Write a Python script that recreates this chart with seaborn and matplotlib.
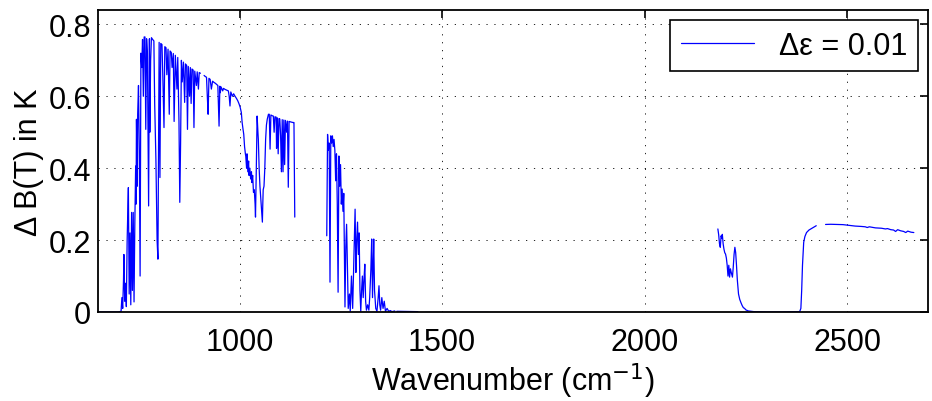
import numpy as np
import pandas as pd
import matplotlib
matplotlib.use("Agg")
import matplotlib.pyplot as plt
import seaborn as sns

# Brightness-temperature sensitivity spectrum, one emissivity perturbation.
# The spectrum is stored band by band; breaks between bands are gaps in the data.

# 650-903 cm-1 (CO2 band edge and window)
wn_band1 = [650, 700, 707, 709, 711, 713, 714, 716, 718, 720, 722, 724, 725, 727, 729,
            731, 733, 735, 737, 739, 741, 743, 744, 745, 747, 748, 750, 752, 754, 756,
            758, 760, 762, 764, 766, 768, 770, 772, 775, 777, 778, 780, 782, 785, 788,
            790, 793, 796, 798, 801, 803, 805, 808, 810, 813, 815, 818, 820, 823, 826,
            828, 831, 833, 836, 838, 841, 845, 847, 850, 852, 854, 856, 858, 861, 864,
            866, 869, 871, 873, 876, 878, 880, 882, 885, 887, 889, 893, 895, 898, 900, 903]
dbt_band1 = [0, 0, 0.002, 0.04, 0.01, 0.09, 0.16, 0.03, 0.08, 0.015, 0.20, 0.30, 0.346, 0.05, 0.22,
             0.02, 0.277, 0.06, 0.277, 0.028, 0.25, 0.406, 0.30, 0.536, 0.35, 0.55, 0.63, 0.45, 0.10, 0.72,
             0.68, 0.758, 0.60, 0.765, 0.765, 0.508, 0.76, 0.72, 0.295, 0.76, 0.50, 0.70, 0.763, 0.758, 0.754,
             0.58, 0.425, 0.198, 0.147, 0.75, 0.374, 0.747, 0.744, 0.66, 0.513, 0.738, 0.735, 0.66, 0.731, 0.55,
             0.726, 0.722, 0.68, 0.719, 0.53, 0.714, 0.62, 0.708, 0.53, 0.305, 0.47, 0.700, 0.64, 0.695, 0.583,
             0.690, 0.686, 0.508, 0.683, 0.60, 0.680, 0.58, 0.676, 0.673, 0.513, 0.670, 0.63, 0.668, 0.62, 0.666, 0.664]

# 912-1136 cm-1 (window and ozone band)
wn_band2 = [912, 915, 918, 920, 922, 924, 927, 930, 933, 936, 940, 943, 946, 949, 951,
            952, 954, 958, 960, 964, 968, 972, 974, 976, 978, 982, 985, 988, 992, 995,
            998, 1001, 1004, 1006, 1008, 1010, 1012, 1014, 1015, 1017, 1018, 1020, 1022, 1023, 1025,
            1027, 1029, 1030, 1032, 1034, 1036, 1038, 1039, 1041, 1043, 1045, 1046, 1048, 1050, 1053,
            1056, 1057, 1058, 1060, 1062, 1064, 1066, 1068, 1071, 1073, 1075, 1077, 1080, 1083, 1085,
            1087, 1090, 1091, 1093, 1095, 1097, 1099, 1101, 1103, 1105, 1107, 1109, 1111, 1113, 1116,
            1118, 1120, 1122, 1125, 1128, 1132, 1134, 1136]
dbt_band2 = [0.658, 0.655, 0.653, 0.60, 0.55, 0.650, 0.647, 0.62, 0.642, 0.639, 0.636, 0.633, 0.630, 0.517, 0.628,
             0.61, 0.626, 0.615, 0.622, 0.619, 0.617, 0.615, 0.60, 0.573, 0.612, 0.60, 0.607, 0.601, 0.594, 0.588,
             0.58, 0.57, 0.555, 0.527, 0.51, 0.494, 0.46, 0.44, 0.433, 0.40, 0.44, 0.39, 0.42, 0.38, 0.40,
             0.37, 0.39, 0.36, 0.38, 0.333, 0.34, 0.30, 0.264, 0.40, 0.545, 0.50, 0.48, 0.40, 0.35, 0.30,
             0.25, 0.30, 0.34, 0.35, 0.40, 0.48, 0.52, 0.536, 0.55, 0.55, 0.453, 0.548, 0.546, 0.545, 0.50,
             0.543, 0.542, 0.455, 0.540, 0.44, 0.538, 0.537, 0.49, 0.39, 0.535, 0.39, 0.534, 0.41, 0.533, 0.50,
             0.531, 0.347, 0.530, 0.529, 0.528, 0.527, 0.527, 0.264]

# 1215-1383 cm-1 (water vapour band edge)
wn_band3 = [1215, 1217, 1219, 1221, 1223, 1225, 1227, 1229, 1231, 1233, 1235, 1237, 1239, 1241, 1243,
            1245, 1247, 1249, 1251, 1253, 1255, 1257, 1260, 1262, 1264, 1266, 1268, 1271, 1273, 1276,
            1279, 1282, 1285, 1287, 1289, 1291, 1293, 1295, 1297, 1299, 1301, 1303, 1305, 1307, 1309,
            1311, 1313, 1316, 1319, 1321, 1324, 1326, 1328, 1330, 1331, 1333, 1336, 1339, 1342, 1344,
            1346, 1348, 1351, 1354, 1357, 1360, 1364, 1368, 1372, 1376, 1383]
dbt_band3 = [0.212, 0.494, 0.45, 0.47, 0.083, 0.49, 0.47, 0.49, 0.46, 0.48, 0.45, 0.365, 0.44, 0.30, 0.055,
             0.434, 0.35, 0.41, 0.30, 0.342, 0.28, 0.33, 0.014, 0.18, 0.244, 0.13, 0.01, 0.05, 0.002, 0.10,
             0.01, 0.15, 0.286, 0.11, 0.20, 0.25, 0.16, 0.22, 0.06, 0.002, 0.06, 0.10, 0.04, 0.09, 0.133,
             0.03, 0.005, 0.02, 0.005, 0.04, 0.12, 0.203, 0.04, 0.15, 0.203, 0.06, 0.01, 0.002, 0.04, 0.073,
             0.02, 0.005, 0.04, 0.01, 0.03, 0.002, 0.01, 0.002, 0.004, 0.001, 0.003]

# near-zero pieces beyond the water vapour band
wn_band4 = [1388, 1440]
dbt_band4 = [0.002, 0.001]
wn_band5 = [1457, 1524]
dbt_band5 = [0.001, 0.001]
wn_band6 = [1539, 1613]
dbt_band6 = [0.001, 0.001]

# 2181-2424 cm-1 (CO / CO2 4.3 um region)
wn_band7 = [2181, 2183, 2185, 2187, 2189, 2191, 2192, 2194, 2196, 2198, 2200, 2202, 2204, 2206, 2208,
            2210, 2212, 2214, 2217, 2219, 2221, 2223, 2225, 2227, 2229, 2232, 2235, 2238, 2241, 2244,
            2247, 2250, 2256, 2270, 2300, 2340, 2383, 2386, 2388, 2390, 2393, 2396, 2400, 2406, 2412,
            2418, 2424]
dbt_band7 = [0.231, 0.215, 0.19, 0.18, 0.212, 0.205, 0.216, 0.19, 0.175, 0.165, 0.161, 0.15, 0.13, 0.10, 0.13,
             0.097, 0.12, 0.11, 0.097, 0.125, 0.16, 0.18, 0.165, 0.13, 0.09, 0.05, 0.035, 0.026, 0.018, 0.012,
             0.01, 0.006, 0.003, 0.001, 0.0, 0.0, 0.001, 0.01, 0.06, 0.13, 0.194, 0.21, 0.221, 0.228, 0.232,
             0.236, 0.240]

# 2447-2665 cm-1 (shortwave window)
wn_band8 = [2447, 2460, 2475, 2490, 2505, 2520, 2535, 2545, 2550, 2555, 2570, 2585, 2595, 2600, 2608,
            2615, 2620, 2625, 2632, 2640, 2645, 2650, 2658, 2665]
dbt_band8 = [0.2435, 0.244, 0.2435, 0.243, 0.241, 0.239, 0.238, 0.237, 0.235, 0.237, 0.234, 0.233, 0.231, 0.232, 0.229,
             0.228, 0.224, 0.229, 0.226, 0.224, 0.221, 0.225, 0.222, 0.221]

bands = [(wn_band1, dbt_band1), (wn_band2, dbt_band2), (wn_band3, dbt_band3),
         (wn_band4, dbt_band4), (wn_band5, dbt_band5), (wn_band6, dbt_band6),
         (wn_band7, dbt_band7), (wn_band8, dbt_band8)]

series_label = "\u0394\u03b5 = 0.01"
x_ticks = [1000, 1500, 2000, 2500]
y_ticks = [0, 0.2, 0.4, 0.6, 0.8]
y_ticklabels = ["0", "0.2", "0.4", "0.6", "0.8"]

sns.set_style("white")
plt.rcParams["font.family"] = ["Liberation Sans", "DejaVu Sans"]
plt.rcParams["font.size"] = 22
plt.rcParams["text.color"] = "black"
plt.rcParams["axes.labelcolor"] = "black"
plt.rcParams["xtick.color"] = "black"
plt.rcParams["ytick.color"] = "black"

fig = plt.figure(figsize=(9.32, 4.02), dpi=100)
ax = fig.add_axes([98 / 932, 89 / 402, 830 / 932, 302 / 402])

for i, (wn, dbt) in enumerate(bands):
    df = pd.DataFrame({"wn": wn, "dbt": dbt})
    sns.lineplot(data=df, x="wn", y="dbt", ax=ax, color="#0000ff", lw=0.9,
                 sort=False, estimator=None,
                 label=series_label if i == 0 else None, legend=False)

ax.set_xlim(650, 2700)
ax.set_ylim(0, 0.84)
ax.set_xticks(x_ticks)
ax.set_xticklabels([str(t) for t in x_ticks])
ax.set_yticks(y_ticks)
ax.set_yticklabels(y_ticklabels)
ax.tick_params(axis="both", which="major", direction="in", length=6, width=1.2,
               top=True, right=True, labelsize=22, colors="black")
ax.tick_params(axis="x", pad=11)
ax.tick_params(axis="y", pad=5)

ax.grid(True, color="black", linestyle=(0, (1.5, 8)), linewidth=0.6)
for sp in ax.spines.values():
    sp.set_visible(True)
    sp.set_color("black")
    sp.set_linewidth(1.3)

ax.set_xlabel("Wavenumber (cm$^{-1}$)", fontsize=22, labelpad=2, color="black")
ax.set_ylabel("\u0394 B(T) in K", fontsize=22, labelpad=3, color="black")

handles, labels = ax.get_legend_handles_labels()
leg = ax.legend(handles, labels, loc="upper right", fontsize=22, frameon=True,
                fancybox=False, edgecolor="black", framealpha=1,
                handlelength=2.4, borderpad=0.35, borderaxespad=0.33,
                handletextpad=0.8)
leg.get_frame().set_linewidth(1.2)
for t in leg.get_texts():
    t.set_color("black")

fig.savefig("out.png", dpi=100, facecolor="white")
